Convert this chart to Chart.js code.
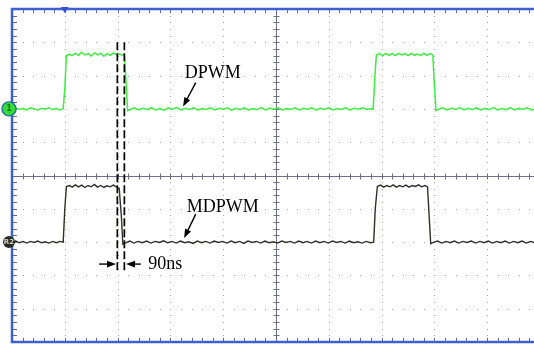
<!DOCTYPE html>
<html>
<head>
<meta charset="utf-8">
<script src="https://cdn.jsdelivr.net/npm/chart.js@4.4.0/dist/chart.umd.min.js"></script>
<style>
  html, body { margin: 0; padding: 0; background: #fff; overflow: hidden; }
  canvas { display: block; }
</style>
</head>
<body>
<canvas id="scope" width="552" height="346"></canvas>
<script>
// time in divisions (0..10), level in divisions (-5..5, 0 = screen centre)
const dpwmPoints = [
  [0,2.00],[0.07,2.03],[0.14,1.98],[0.21,2.02],[0.28,1.97],[0.35,2.03],[0.42,2.00],[0.49,1.97],[0.56,2.02],[0.63,1.99],[0.70,2.03],[0.77,1.98],[0.84,2.01],[0.91,1.97],[0.97,2.01],
  [1.00,2.60],[1.03,3.60],
  [1.09,3.64],[1.14,3.60],[1.20,3.67],[1.26,3.61],[1.32,3.70],[1.38,3.62],[1.44,3.66],[1.50,3.59],[1.56,3.68],[1.62,3.62],[1.68,3.67],[1.74,3.58],[1.80,3.66],[1.86,3.61],[1.92,3.68],[1.98,3.62],[2.04,3.65],[2.10,3.61],[2.13,3.63],
  [2.16,2.80],[2.19,1.95],
  [2.24,1.98],[2.32,2.03],[2.40,1.97],[2.48,2.02],[2.56,1.98],[2.64,2.04],[2.72,1.97],[2.80,2.01],[2.88,1.96],[2.96,2.03],[3.04,1.99],[3.12,2.04],[3.20,1.97],[3.28,2.02],[3.36,1.98],[3.44,2.03],[3.52,1.97],[3.60,2.01],[3.68,1.98],[3.76,2.03],[3.84,1.97],[3.92,2.02],[4.00,1.99],[4.08,2.03],[4.16,1.96],[4.24,2.02],[4.32,1.98],[4.40,2.03],[4.48,1.97],[4.56,2.01],[4.64,1.98],[4.72,2.04],[4.80,1.97],[4.88,2.02],[4.96,1.99],[5.04,2.03],[5.12,1.97],[5.20,2.01],[5.28,1.98],[5.36,2.03],[5.44,1.97],[5.52,2.02],[5.60,1.99],[5.68,2.03],[5.76,1.97],[5.84,2.02],[5.92,1.98],[6.00,2.03],[6.08,1.97],[6.16,2.01],[6.24,1.98],[6.32,2.03],[6.40,1.97],[6.48,2.02],[6.56,1.99],[6.64,2.03],[6.72,1.98],[6.80,2.01],[6.84,1.99],
  [6.87,2.90],[6.90,3.61],
  [6.96,3.66],[7.02,3.60],[7.08,3.67],[7.14,3.61],[7.20,3.66],[7.26,3.60],[7.32,3.67],[7.38,3.62],[7.44,3.66],[7.50,3.60],[7.56,3.67],[7.62,3.61],[7.68,3.65],[7.74,3.60],[7.80,3.67],[7.86,3.61],[7.92,3.66],[7.97,3.62],
  [8.00,2.70],[8.03,1.95],
  [8.08,1.99],[8.16,2.03],[8.24,1.97],[8.32,2.02],[8.40,1.98],[8.48,2.04],[8.56,1.97],[8.64,2.02],[8.72,1.98],[8.80,2.03],[8.88,1.97],[8.96,2.02],[9.04,1.98],[9.12,2.04],[9.20,1.97],[9.28,2.01],[9.36,1.98],[9.44,2.03],[9.52,1.97],[9.60,2.02],[9.68,1.99],[9.76,2.03],[9.84,1.97],[9.92,2.01],[10.00,1.99]
];

const mdpwmPoints = [
  [0,-2.00],[0.07,-1.97],[0.14,-2.02],[0.21,-1.98],[0.28,-2.03],[0.35,-1.98],[0.42,-2.01],[0.49,-1.97],[0.56,-2.02],[0.63,-1.99],[0.70,-2.03],[0.77,-1.98],[0.84,-2.02],[0.91,-1.98],[0.97,-2.00],
  [1.00,-1.00],[1.03,-0.33],
  [1.09,-0.30],[1.14,-0.35],[1.20,-0.28],[1.26,-0.34],[1.32,-0.29],[1.38,-0.36],[1.44,-0.30],[1.50,-0.34],[1.56,-0.27],[1.62,-0.35],[1.68,-0.30],[1.74,-0.36],[1.80,-0.31],[1.86,-0.34],[1.92,-0.29],[1.98,-0.35],[2.03,-0.38],
  [2.07,-1.20],[2.10,-2.06],
  [2.15,-2.02],[2.23,-1.97],[2.31,-2.03],[2.39,-1.98],[2.47,-2.02],[2.55,-1.97],[2.63,-2.03],[2.71,-1.98],[2.79,-2.01],[2.87,-1.96],[2.95,-2.02],[3.03,-1.98],[3.11,-2.03],[3.19,-1.97],[3.27,-2.02],[3.35,-1.99],[3.43,-2.04],[3.51,-1.97],[3.59,-2.02],[3.67,-1.98],[3.75,-2.03],[3.83,-1.97],[3.91,-2.01],[3.99,-1.98],[4.07,-2.03],[4.15,-1.97],[4.23,-2.02],[4.31,-1.98],[4.39,-2.04],[4.47,-1.97],[4.55,-2.01],[4.63,-1.98],[4.71,-2.03],[4.79,-1.97],[4.87,-2.02],[4.95,-1.99],[5.03,-2.03],[5.11,-1.97],[5.19,-2.01],[5.27,-1.98],[5.35,-2.03],[5.43,-1.97],[5.51,-2.02],[5.59,-1.98],[5.67,-2.03],[5.75,-1.97],[5.83,-2.02],[5.91,-1.98],[5.99,-2.03],[6.07,-1.97],[6.15,-2.01],[6.23,-1.98],[6.31,-2.03],[6.39,-1.97],[6.47,-2.02],[6.55,-1.99],[6.63,-2.03],[6.71,-1.98],[6.79,-2.02],[6.85,-2.00],
  [6.88,-1.00],[6.92,-0.33],
  [6.98,-0.29],[7.04,-0.35],[7.10,-0.30],[7.16,-0.34],[7.22,-0.28],[7.28,-0.35],[7.34,-0.30],[7.40,-0.34],[7.46,-0.29],[7.52,-0.35],[7.58,-0.30],[7.64,-0.33],[7.70,-0.28],[7.76,-0.34],[7.82,-0.30],[7.87,-0.34],
  [7.90,-1.20],[7.93,-2.05],
  [7.98,-2.01],[8.06,-1.97],[8.14,-2.03],[8.22,-1.98],[8.30,-2.02],[8.38,-1.97],[8.46,-2.03],[8.54,-1.98],[8.62,-2.01],[8.70,-1.97],[8.78,-2.03],[8.86,-1.98],[8.94,-2.02],[9.02,-1.97],[9.10,-2.03],[9.18,-1.98],[9.26,-2.02],[9.34,-1.97],[9.42,-2.03],[9.50,-1.98],[9.58,-2.02],[9.66,-1.97],[9.74,-2.03],[9.82,-1.98],[9.90,-2.02],[10.00,-1.99]
];

// 90 ns cursors
const cursorTimes = [1.995, 2.128];
const cursorSpan = [4.0, -2.85];

// labels: [text, x, y] in divisions
const traceLabels = [
  ['DPWM', 3.27, 3.08],
  ['MDPWM', 3.31, -0.95],
  ['90ns', 2.58, -2.67]
];
// arrows: [fromX, fromY, toX, toY]
const labelArrows = [
  [3.48, 2.79, 3.24, 2.07],
  [3.48, -1.16, 3.26, -1.88],
  [1.65, -2.66, 1.97, -2.66],
  [2.44, -2.66, 2.16, -2.66]
];

const majorDivs = [0,1,2,3,4,5,6,7,8,9,10];

const toXY = (pts) => pts.map(p => ({ x: p[0], y: p[1] }));

function arrow(ctx, x1, y1, x2, y2) {
  const a = Math.atan2(y2 - y1, x2 - x1);
  const len = 9, w = 3.3;
  ctx.beginPath();
  ctx.moveTo(x1, y1);
  ctx.lineTo(x2 - Math.cos(a) * len * 0.8, y2 - Math.sin(a) * len * 0.8);
  ctx.stroke();
  ctx.beginPath();
  ctx.moveTo(x2, y2);
  ctx.lineTo(x2 - Math.cos(a) * len - Math.sin(a) * w, y2 - Math.sin(a) * len + Math.cos(a) * w);
  ctx.lineTo(x2 - Math.cos(a) * len + Math.sin(a) * w, y2 - Math.sin(a) * len - Math.cos(a) * w);
  ctx.closePath();
  ctx.fill();
}

const scopeScreen = {
  id: 'scopeScreen',
  beforeDatasetsDraw(chart) {
    const { ctx, chartArea: ca, scales: { x, y } } = chart;
    ctx.save();
    // dotted graticule
    ctx.fillStyle = '#a0a0a0';
    majorDivs.forEach(d => {
      if (d === 0 || d === 10 || d === 5) return;
      const px = Math.round(x.getPixelForValue(d));
      for (let k = 0; k <= 50; k++) {
        const py = Math.round(y.getPixelForValue(-5 + k * 0.2));
        ctx.fillRect(px, py, 1, 1);
      }
      const py = Math.round(y.getPixelForValue(d - 5));
      for (let k = 0; k <= 50; k++) {
        const qx = Math.round(x.getPixelForValue(k * 0.2));
        ctx.fillRect(qx, py, 1, 1);
      }
    });
    // centre cross with minor ticks
    ctx.strokeStyle = '#6b6f88';
    ctx.lineWidth = 1;
    const cx = Math.round(x.getPixelForValue(5)) + 0.5;
    const cy = Math.round(y.getPixelForValue(0)) + 0.5;
    ctx.beginPath();
    ctx.moveTo(cx, ca.top); ctx.lineTo(cx, ca.bottom);
    ctx.moveTo(ca.left, cy); ctx.lineTo(ca.right, cy);
    for (let k = 0; k <= 50; k++) {
      const qx = Math.round(x.getPixelForValue(k * 0.2)) + 0.5;
      ctx.moveTo(qx, cy - 3); ctx.lineTo(qx, cy + 3);
      const qy = Math.round(y.getPixelForValue(-5 + k * 0.2)) + 0.5;
      ctx.moveTo(cx - 3, qy); ctx.lineTo(cx + 3, qy);
    }
    ctx.stroke();
    ctx.restore();
  },
  afterDatasetsDraw(chart) {
    const { ctx, chartArea: ca, scales: { x, y } } = chart;
    ctx.save();
    // border ticks
    ctx.strokeStyle = '#5d6a9c';
    ctx.lineWidth = 1;
    ctx.beginPath();
    for (let k = 0; k <= 50; k++) {
      const qy = Math.round(y.getPixelForValue(-5 + k * 0.2)) + 0.5;
      ctx.moveTo(ca.left, qy); ctx.lineTo(ca.left + 5, qy);
      const qx = Math.round(x.getPixelForValue(k * 0.2)) + 0.5;
      ctx.moveTo(qx, ca.top); ctx.lineTo(qx, ca.top + 4);
      ctx.moveTo(qx, ca.bottom); ctx.lineTo(qx, ca.bottom - 4);
    }
    ctx.stroke();
    // blue frame
    ctx.strokeStyle = '#3d5fd2';
    ctx.lineWidth = 2.5;
    ctx.beginPath();
    ctx.moveTo(ca.right + 2, ca.top); ctx.lineTo(ca.left, ca.top);
    ctx.lineTo(ca.left, ca.bottom); ctx.lineTo(ca.right + 2, ca.bottom);
    ctx.stroke();
    // trigger position marker
    const tx = x.getPixelForValue(1);
    ctx.fillStyle = '#3050d0';
    ctx.beginPath();
    ctx.moveTo(tx - 4, ca.top - 2); ctx.lineTo(tx + 4, ca.top - 2); ctx.lineTo(tx, ca.top + 4);
    ctx.closePath(); ctx.fill();
    // cursors
    ctx.strokeStyle = '#000';
    ctx.lineWidth = 1.7;
    ctx.setLineDash([8, 3]);
    cursorTimes.forEach(t => {
      const px = x.getPixelForValue(t);
      ctx.beginPath();
      ctx.moveTo(px, y.getPixelForValue(cursorSpan[0]));
      ctx.lineTo(px, y.getPixelForValue(cursorSpan[1]));
      ctx.stroke();
    });
    ctx.setLineDash([]);
    // labels and arrows
    ctx.fillStyle = '#000';
    ctx.lineWidth = 1.4;
    labelArrows.forEach(a => arrow(ctx, x.getPixelForValue(a[0]), y.getPixelForValue(a[1]),
      x.getPixelForValue(a[2]), y.getPixelForValue(a[3])));
    ctx.font = '18px "Liberation Serif", "Times New Roman", serif';
    ctx.textBaseline = 'middle';
    ctx.textAlign = 'left';
    traceLabels.forEach(l => ctx.fillText(l[0], x.getPixelForValue(l[1]), y.getPixelForValue(l[2])));
    // channel markers
    const g = y.getPixelForValue(dpwmPoints[0][1]);
    ctx.beginPath(); ctx.arc(ca.left - 3, g, 7, 0, Math.PI * 2);
    ctx.fillStyle = '#33dd33'; ctx.fill();
    ctx.strokeStyle = '#1f6fa0'; ctx.lineWidth = 1.4; ctx.stroke();
    ctx.fillStyle = '#157a15';
    ctx.font = 'bold 8px "DejaVu Sans", sans-serif';
    ctx.textAlign = 'center';
    ctx.fillText('1', ca.left - 3, g + 0.5);
    const r = y.getPixelForValue(mdpwmPoints[0][1]);
    ctx.beginPath(); ctx.arc(ca.left - 3, r, 6, 0, Math.PI * 2);
    ctx.fillStyle = '#2a2a22'; ctx.fill();
    ctx.fillStyle = '#d0d0c8';
    ctx.font = 'bold 7px "DejaVu Sans", sans-serif';
    ctx.fillText('R2', ca.left - 3, r + 0.5);
    ctx.restore();
  }
};

new Chart(document.getElementById('scope'), {
  type: 'line',
  data: {
    datasets: [
      { label: 'DPWM', data: toXY(dpwmPoints), borderColor: '#3fec3f', borderWidth: 1.5, pointRadius: 0, tension: 0 },
      { label: 'MDPWM', data: toXY(mdpwmPoints), borderColor: '#303026', borderWidth: 1.4, pointRadius: 0, tension: 0 }
    ]
  },
  options: {
    responsive: false,
    animation: false,
    devicePixelRatio: 1,
    layout: { padding: { left: 12, right: 12, top: 9, bottom: 4 } },
    scales: {
      x: { type: 'linear', min: 0, max: 10, display: false },
      y: { type: 'linear', min: -5, max: 5, display: false }
    },
    plugins: { legend: { display: false }, tooltip: { enabled: false } }
  },
  plugins: [scopeScreen]
});
</script>
</body>
</html>
